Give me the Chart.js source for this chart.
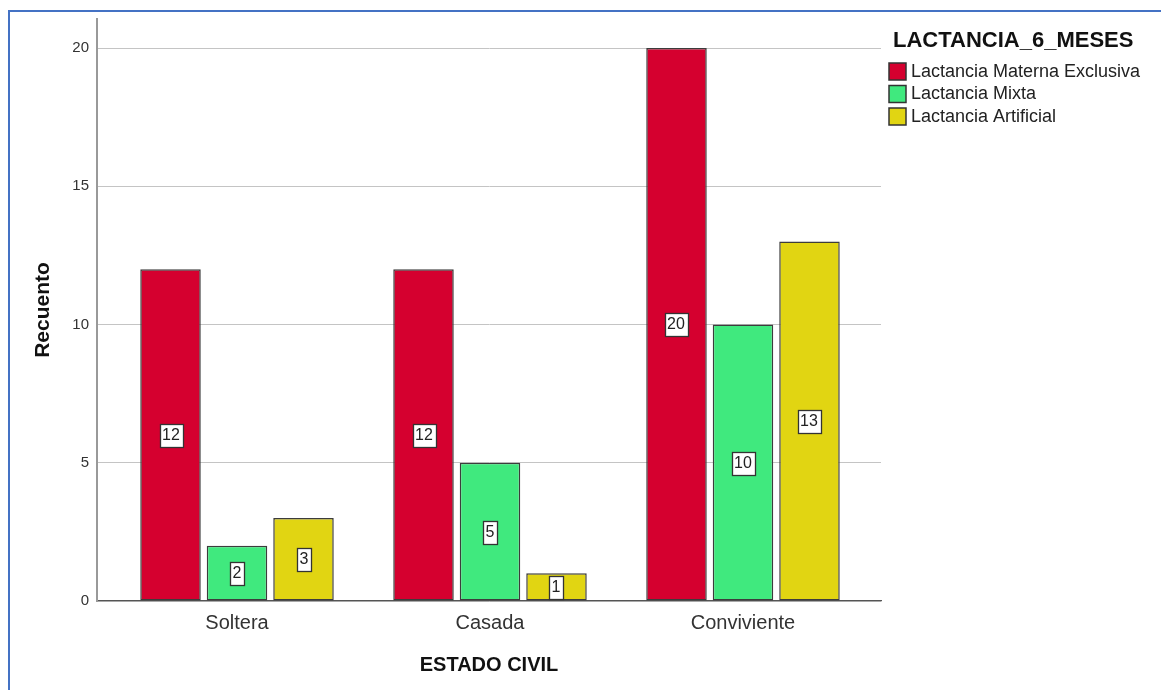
<!DOCTYPE html>
<html>
<head>
<meta charset="utf-8">
<script src="https://cdn.jsdelivr.net/npm/chart.js@4"></script>
<style>
  html, body { margin: 0; padding: 0; background: #fff; overflow: hidden; }
  #frame { position: absolute; left: 8px; top: 10px; width: 1200px; height: 700px;
           border-top: 2px solid #4472C4; border-left: 2px solid #4472C4; }
  #c { position: absolute; left: 0; top: 0; }
</style>
</head>
<body>
<div id="frame"></div>
<canvas id="c" width="1161" height="690"></canvas>
<script>
// categories on the x axis
const estadoCivil = ['Soltera', 'Casada', 'Conviviente'];
// counts per group
const exclusiva = [12, 12, 20];
const mixta = [2, 5, 10];
const artificial = [3, 1, 13];
const seriesNames = ['Lactancia Materna Exclusiva', 'Lactancia Mixta', 'Lactancia Artificial'];
const yTicks = [0, 5, 10, 15, 20];

const colors = ['#D5002F', '#40E97E', '#E1D512'];
const FONT = "'Liberation Sans', Arial, sans-serif";

const toPoints = (vals) => vals.map((v, i) => ({ x: i, y: v }));

// white boxed count in the middle of each bar
const barLabels = {
  id: 'barLabels',
  afterDatasetsDraw(chart) {
    const ctx = chart.ctx;
    ctx.save();
    ctx.font = '16px ' + FONT;
    ctx.textAlign = 'center';
    ctx.textBaseline = 'middle';
    chart.data.datasets.forEach((ds, di) => {
      chart.getDatasetMeta(di).data.forEach((bar, i) => {
        const txt = String(ds.data[i].y);
        const w = Math.round(ctx.measureText(txt).width + 5);
        const h = 23;
        const cx = Math.round(bar.x);
        const cy = Math.round((bar.y + bar.base) / 2);
        const x0 = Math.round(cx - w / 2) + 0.5, y0 = Math.round(cy - h / 2) + 0.5;
        ctx.fillStyle = '#fff';
        ctx.fillRect(x0, y0, w, h);
        ctx.strokeStyle = '#333';
        ctx.lineWidth = 1.3;
        ctx.strokeRect(x0, y0, w, h);
        ctx.fillStyle = '#222';
        ctx.fillText(txt, cx, cy + 1);
      });
    });
    ctx.restore();
  }
};

// legend to the right, SPSS style
const sideLegend = {
  id: 'sideLegend',
  afterDraw(chart) {
    const ctx = chart.ctx;
    ctx.save();
    ctx.fillStyle = '#111';
    ctx.font = 'bold 22px ' + FONT;
    ctx.textBaseline = 'middle';
    ctx.textAlign = 'left';
    ctx.fillText('LACTANCIA_6_MESES', 893, 41);
    ctx.font = '18px ' + FONT;
    chart.data.datasets.forEach((ds, i) => {
      const y = 71 + i * 22.5;
      ctx.fillStyle = ds.backgroundColor;
      ctx.fillRect(889, y - 8, 17, 17);
      ctx.strokeStyle = '#333';
      ctx.lineWidth = 1.5;
      ctx.strokeRect(889, y - 8, 17, 17);
      ctx.fillStyle = '#222';
      ctx.fillText(ds.label, 911, y + 1);
    });
    ctx.restore();
  }
};

new Chart(document.getElementById('c'), {
  type: 'bar',
  data: {
    datasets: [exclusiva, mixta, artificial].map((vals, i) => ({
      label: seriesNames[i],
      data: toPoints(vals),
      backgroundColor: colors[i],
      borderColor: '#3c3c3c',
      borderWidth: 1.5,
      borderSkipped: false,
      barPercentage: 0.91,
      categoryPercentage: 0.7885
    }))
  },
  options: {
    responsive: false,
    animation: false,
    layout: { padding: { left: 0, top: 19, right: 280, bottom: 0 } },
    plugins: { legend: { display: false }, tooltip: { enabled: false } },
    scales: {
      x: {
        type: 'linear',
        offset: false,
        min: -0.5534,
        max: 2.5455,
        afterFit: (s) => { s.height = 89; },
        afterBuildTicks: (s) => { s.ticks = estadoCivil.map((_, i) => ({ value: i })); },
        grid: { display: false, drawTicks: false, offset: false },
        border: { display: true, color: '#555', width: 1.2 },
        ticks: {
          autoSkip: false, maxRotation: 0, padding: 10,
          color: '#333', font: { family: FONT, size: 20 },
          callback: (v) => estadoCivil[v]
        },
        title: {
          display: true, text: 'ESTADO CIVIL', color: '#111',
          font: { family: FONT, size: 20, weight: 'bold' },
          padding: { top: 0, bottom: 13 }
        }
      },
      y: {
        min: 0,
        max: 21.05,
        afterFit: (s) => { s.width = 97; },
        afterBuildTicks: (s) => { s.ticks = yTicks.map((v) => ({ value: v })); },
        grid: { color: '#c4c4c4', lineWidth: 1, drawTicks: false },
        border: { display: true, color: '#999', width: 2 },
        ticks: {
          padding: 8, color: '#333', font: { family: FONT, size: 15 }
        },
        title: {
          display: true, text: 'Recuento', color: '#111',
          font: { family: FONT, size: 21, weight: 'bold' },
          padding: { top: 31, bottom: 0 }
        }
      }
    }
  },
  plugins: [barLabels, sideLegend]
});
</script>
</body>
</html>
